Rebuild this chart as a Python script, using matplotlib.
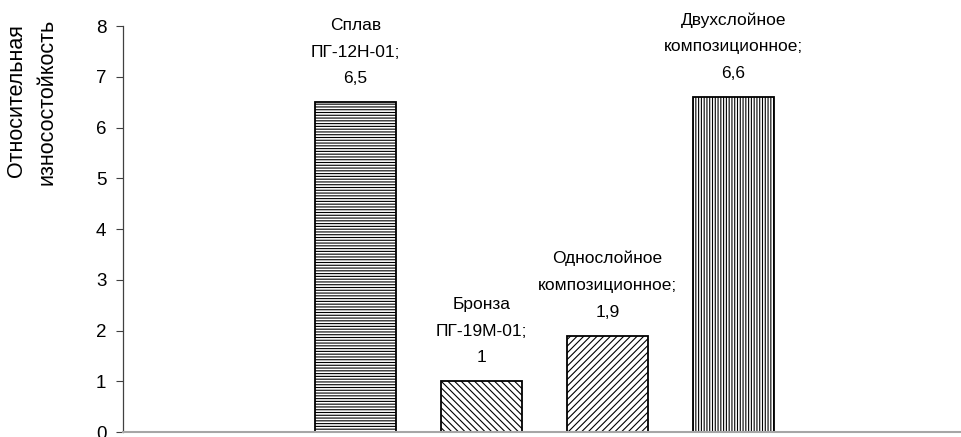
import matplotlib.pyplot as plt

plt.rcParams['font.family'] = ['Liberation Sans', 'DejaVu Sans']
plt.rcParams['hatch.linewidth'] = 0.8

# Данные
materialy = ['Сплав\nПГ-12Н-01;', 'Бронза\nПГ-19М-01;',
             'Однослойное\nкомпозиционное;', 'Двухслойное\nкомпозиционное;']
iznosostoykost = [6.5, 1, 1.9, 6.6]
podpisi = ['6,5', '1', '1,9', '6,6']
shtrikhovka = ['------', '\\\\\\\\\\', '/////', '||||||']

fig = plt.figure(figsize=(9.61, 4.37), dpi=100)
ax = fig.add_axes([0.128, 0.0114, 0.872, 0.929])

x = list(range(len(materialy)))
for i in x:
    ax.bar(i, iznosostoykost[i], width=0.643, color='white',
           edgecolor='black', linewidth=1.3, hatch=shtrikhovka[i])
    ax.annotate(materialy[i] + '\n' + podpisi[i], (i, iznosostoykost[i]),
                xytext=(0, 11.5), textcoords='offset points',
                ha='center', va='bottom', fontsize=12.5, linespacing=1.97)

ax.set_xlim(-1.845, 4.805)
ax.set_ylim(0, 8)
ax.set_yticks(range(0, 9))
ax.set_xticks([])
ax.tick_params(axis='y', length=5, width=0.8, color='#404040',
               labelsize=13.5, pad=7)

ax.spines['top'].set_visible(False)
ax.spines['right'].set_visible(False)
ax.spines['left'].set_color('#404040')
ax.spines['left'].set_linewidth(0.9)
ax.spines['bottom'].set_color('#a6a6a6')
ax.spines['bottom'].set_linewidth(1.5)

# Подпись оси Y
fig.text(0.017, 0.769, 'Относительная', rotation=90, ha='center', va='center',
         fontsize=15.5)
fig.text(0.049, 0.766, 'износостойкость', rotation=90, ha='center', va='center',
         fontsize=15.5)

plt.savefig('out.png', dpi=100)
